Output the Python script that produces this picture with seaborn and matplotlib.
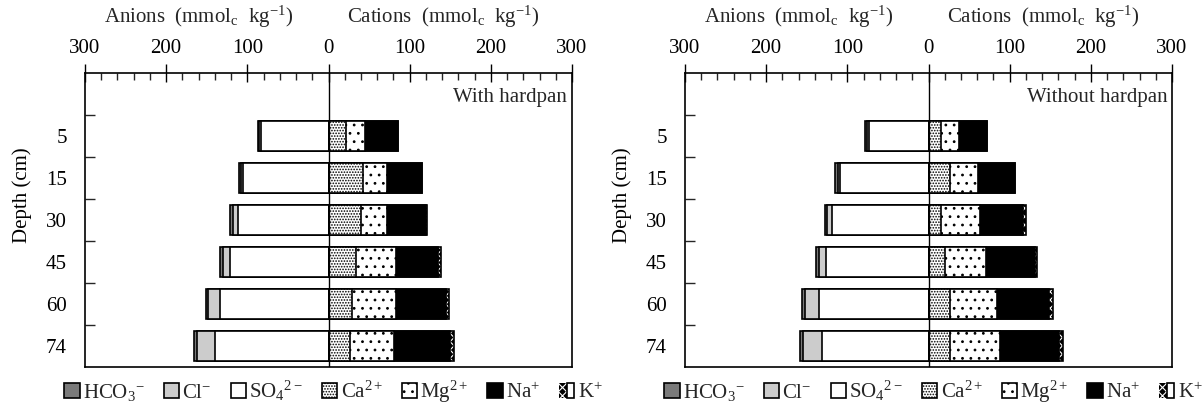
import numpy as np
import pandas as pd
import matplotlib
matplotlib.use("Agg")
import matplotlib.pyplot as plt
import seaborn as sns
from matplotlib.patches import Patch
from matplotlib.ticker import MultipleLocator, FixedLocator
from matplotlib.legend_handler import HandlerTuple

# ---------------- data ----------------
depths = ['5', '15', '30', '45', '60', '74']
x_ticks = [-300, -200, -100, 0, 100, 200, 300]
x_tick_labels = ['300', '200', '100', '0', '100', '200', '300']

# With hardpan (mmolc kg-1)
hard_hco3 = [1.5, 2.5, 2.9, 2.9, 2.9, 3.3]
hard_cl = [2.0, 3.0, 6.1, 8.6, 14.8, 21.8]
hard_so4 = [83.5, 105.0, 112.0, 121.7, 133.5, 140.0]
hard_ca = [21.6, 42.5, 39.6, 33.9, 29.0, 27.1]
hard_mg = [23.7, 29.0, 31.9, 49.0, 53.9, 54.2]
hard_na = [40.4, 43.3, 48.2, 51.5, 61.3, 68.6]
hard_k = [0.3, 0.3, 2.0, 4.1, 4.5, 4.9]

# Without hardpan (mmolc kg-1)
soft_hco3 = [2.5, 2.9, 2.5, 2.9, 3.3, 3.7]
soft_cl = [2.5, 2.9, 6.6, 9.4, 17.7, 22.6]
soft_so4 = [73.8, 108.8, 119.0, 126.1, 134.7, 131.8]
soft_ca = [15.6, 26.3, 15.6, 20.5, 26.3, 26.3]
soft_mg = [21.4, 35.3, 47.6, 50.9, 57.5, 62.4]
soft_na = [35.3, 44.8, 53.0, 60.4, 64.5, 71.9]
soft_k = [0.3, 0.3, 4.1, 2.0, 5.7, 5.7]

panel_titles = ['With hardpan', 'Without hardpan']
ion_labels = [r'HCO$_\mathregular{3}$$^{\mathregular{-}}$', r'Cl$^{\mathregular{-}}$',
              r'SO$_\mathregular{4}$$^{\mathregular{2-}}$', r'Ca$^{\mathregular{2+}}$',
              r'Mg$^{\mathregular{2+}}$', r'Na$^{\mathregular{+}}$', r'K$^{\mathregular{+}}$']

# ---------------- style ----------------
sns.set_theme(style='ticks')
plt.rcParams['font.family'] = ['Liberation Serif', 'DejaVu Serif']
plt.rcParams['mathtext.fontset'] = 'custom'
plt.rcParams['mathtext.rm'] = 'Liberation Serif'
plt.rcParams['mathtext.it'] = 'Liberation Serif:italic'
plt.rcParams['mathtext.bf'] = 'Liberation Serif:bold'
plt.rcParams['hatch.linewidth'] = 0.8
plt.rcParams['axes.edgecolor'] = 'black'

C_HCO3 = '#7a7a7a'
C_CL = '#cccccc'
FS = 15
BW = 0.73
LW = 1.2

fig = plt.figure(figsize=(12.04, 4.12), dpi=100)
ax1 = fig.add_axes([85 / 1204, 45 / 412, 487 / 1204, 294 / 412])
ax2 = fig.add_axes([685 / 1204, 45 / 412, 487 / 1204, 294 / 412])


def draw(ax, hco3, cl, so4, ca, mg, na, k, title):
    hco3, cl, so4 = np.array(hco3), np.array(cl), np.array(so4)
    ca, mg, na, k = np.array(ca), np.array(mg), np.array(na), np.array(k)
    common = dict(y=depths, order=depths, orient='h', width=BW,
                  saturation=1, ax=ax, errorbar=None)
    # anions (negative side), drawn largest cumulative first
    sns.barplot(x=-(hco3 + cl + so4), color=C_HCO3, edgecolor='black', linewidth=LW, **common)
    sns.barplot(x=-(cl + so4), color=C_CL, edgecolor='black', linewidth=LW, **common)
    sns.barplot(x=-so4, color='white', edgecolor='black', linewidth=LW, **common)
    # cations (positive side)
    sns.barplot(x=ca + mg + na + k, color='black', edgecolor='white', hatch='xxxx',
                linewidth=0, **common)
    sns.barplot(x=ca + mg + na + k, fill=False, color='black', linewidth=LW, **common)
    sns.barplot(x=ca + mg + na, color='black', edgecolor='black', linewidth=LW, **common)
    sns.barplot(x=ca + mg, color='white', edgecolor='black', hatch='..',
                linewidth=LW, **common)
    sns.barplot(x=ca, color='white', edgecolor='black', hatch='......',
                linewidth=LW, **common)

    ax.axvline(0, color='black', lw=1.0, zorder=10)

    ax.set_xlim(-300, 300)
    ax.set_ylim(5.5, -1.5)
    ax.xaxis.tick_top()
    ax.set_xticks(x_ticks)
    ax.set_xticklabels(x_tick_labels)
    ax.xaxis.set_minor_locator(MultipleLocator(20))
    ax.tick_params(axis='x', which='major', direction='inout', length=13, width=1.0,
                   top=True, bottom=False, labeltop=True, labelbottom=False,
                   labelsize=FS, pad=4, colors='black')
    ax.tick_params(axis='x', which='minor', direction='in', length=5, width=1.0,
                   top=True, bottom=False)
    ax.set_yticks(range(len(depths)))
    ax.set_yticklabels(depths)
    ax.yaxis.set_minor_locator(FixedLocator(np.arange(-0.5, len(depths) - 1, 1.0)))
    ax.tick_params(axis='y', which='major', length=0, pad=13, labelsize=FS, colors='black')
    ax.tick_params(axis='y', which='minor', direction='in', length=7, width=1.0,
                   left=True, right=False)
    ax.set_xlabel('')
    ax.set_ylabel('Depth (cm)', fontsize=FS, color='black')
    ax.yaxis.set_label_coords(-0.109, 0.586)
    for s in ax.spines.values():
        s.set_visible(True)
        s.set_color('black')
        s.set_linewidth(LW)

    ax.text(0.234, 1.19, r'Anions  (mmol$_\mathregular{c}$  kg$^\mathregular{-1}$)',
            transform=ax.transAxes, ha='center', va='center', fontsize=FS)
    ax.text(0.735, 1.19, r'Cations  (mmol$_\mathregular{c}$  kg$^\mathregular{-1}$)',
            transform=ax.transAxes, ha='center', va='center', fontsize=FS)
    ax.text(0.99, 0.915, title, transform=ax.transAxes, ha='right', va='center',
            fontsize=FS)

    handles = [
        Patch(facecolor=C_HCO3, edgecolor='black', linewidth=LW),
        Patch(facecolor=C_CL, edgecolor='black', linewidth=LW),
        Patch(facecolor='white', edgecolor='black', linewidth=LW),
        Patch(facecolor='white', edgecolor='black', hatch='......', linewidth=LW),
        Patch(facecolor='white', edgecolor='black', hatch='..', linewidth=LW),
        Patch(facecolor='black', edgecolor='black', linewidth=LW),
        (Patch(facecolor='black', edgecolor='white', hatch='xxxx', linewidth=0),
         Patch(facecolor='none', edgecolor='black', linewidth=LW)),
    ]
    ax.legend(handles, ion_labels, loc='center', bbox_to_anchor=(0.51, -0.085),
              ncol=7, frameon=False, fontsize=FS, handlelength=0.75,
              handleheight=0.75, handletextpad=0.15, columnspacing=0.9,
              borderaxespad=0, handler_map={tuple: HandlerTuple(ndivide=None, pad=0)})


draw(ax1, hard_hco3, hard_cl, hard_so4, hard_ca, hard_mg, hard_na, hard_k, panel_titles[0])
draw(ax2, soft_hco3, soft_cl, soft_so4, soft_ca, soft_mg, soft_na, soft_k, panel_titles[1])

fig.savefig('out.png', dpi=100)
